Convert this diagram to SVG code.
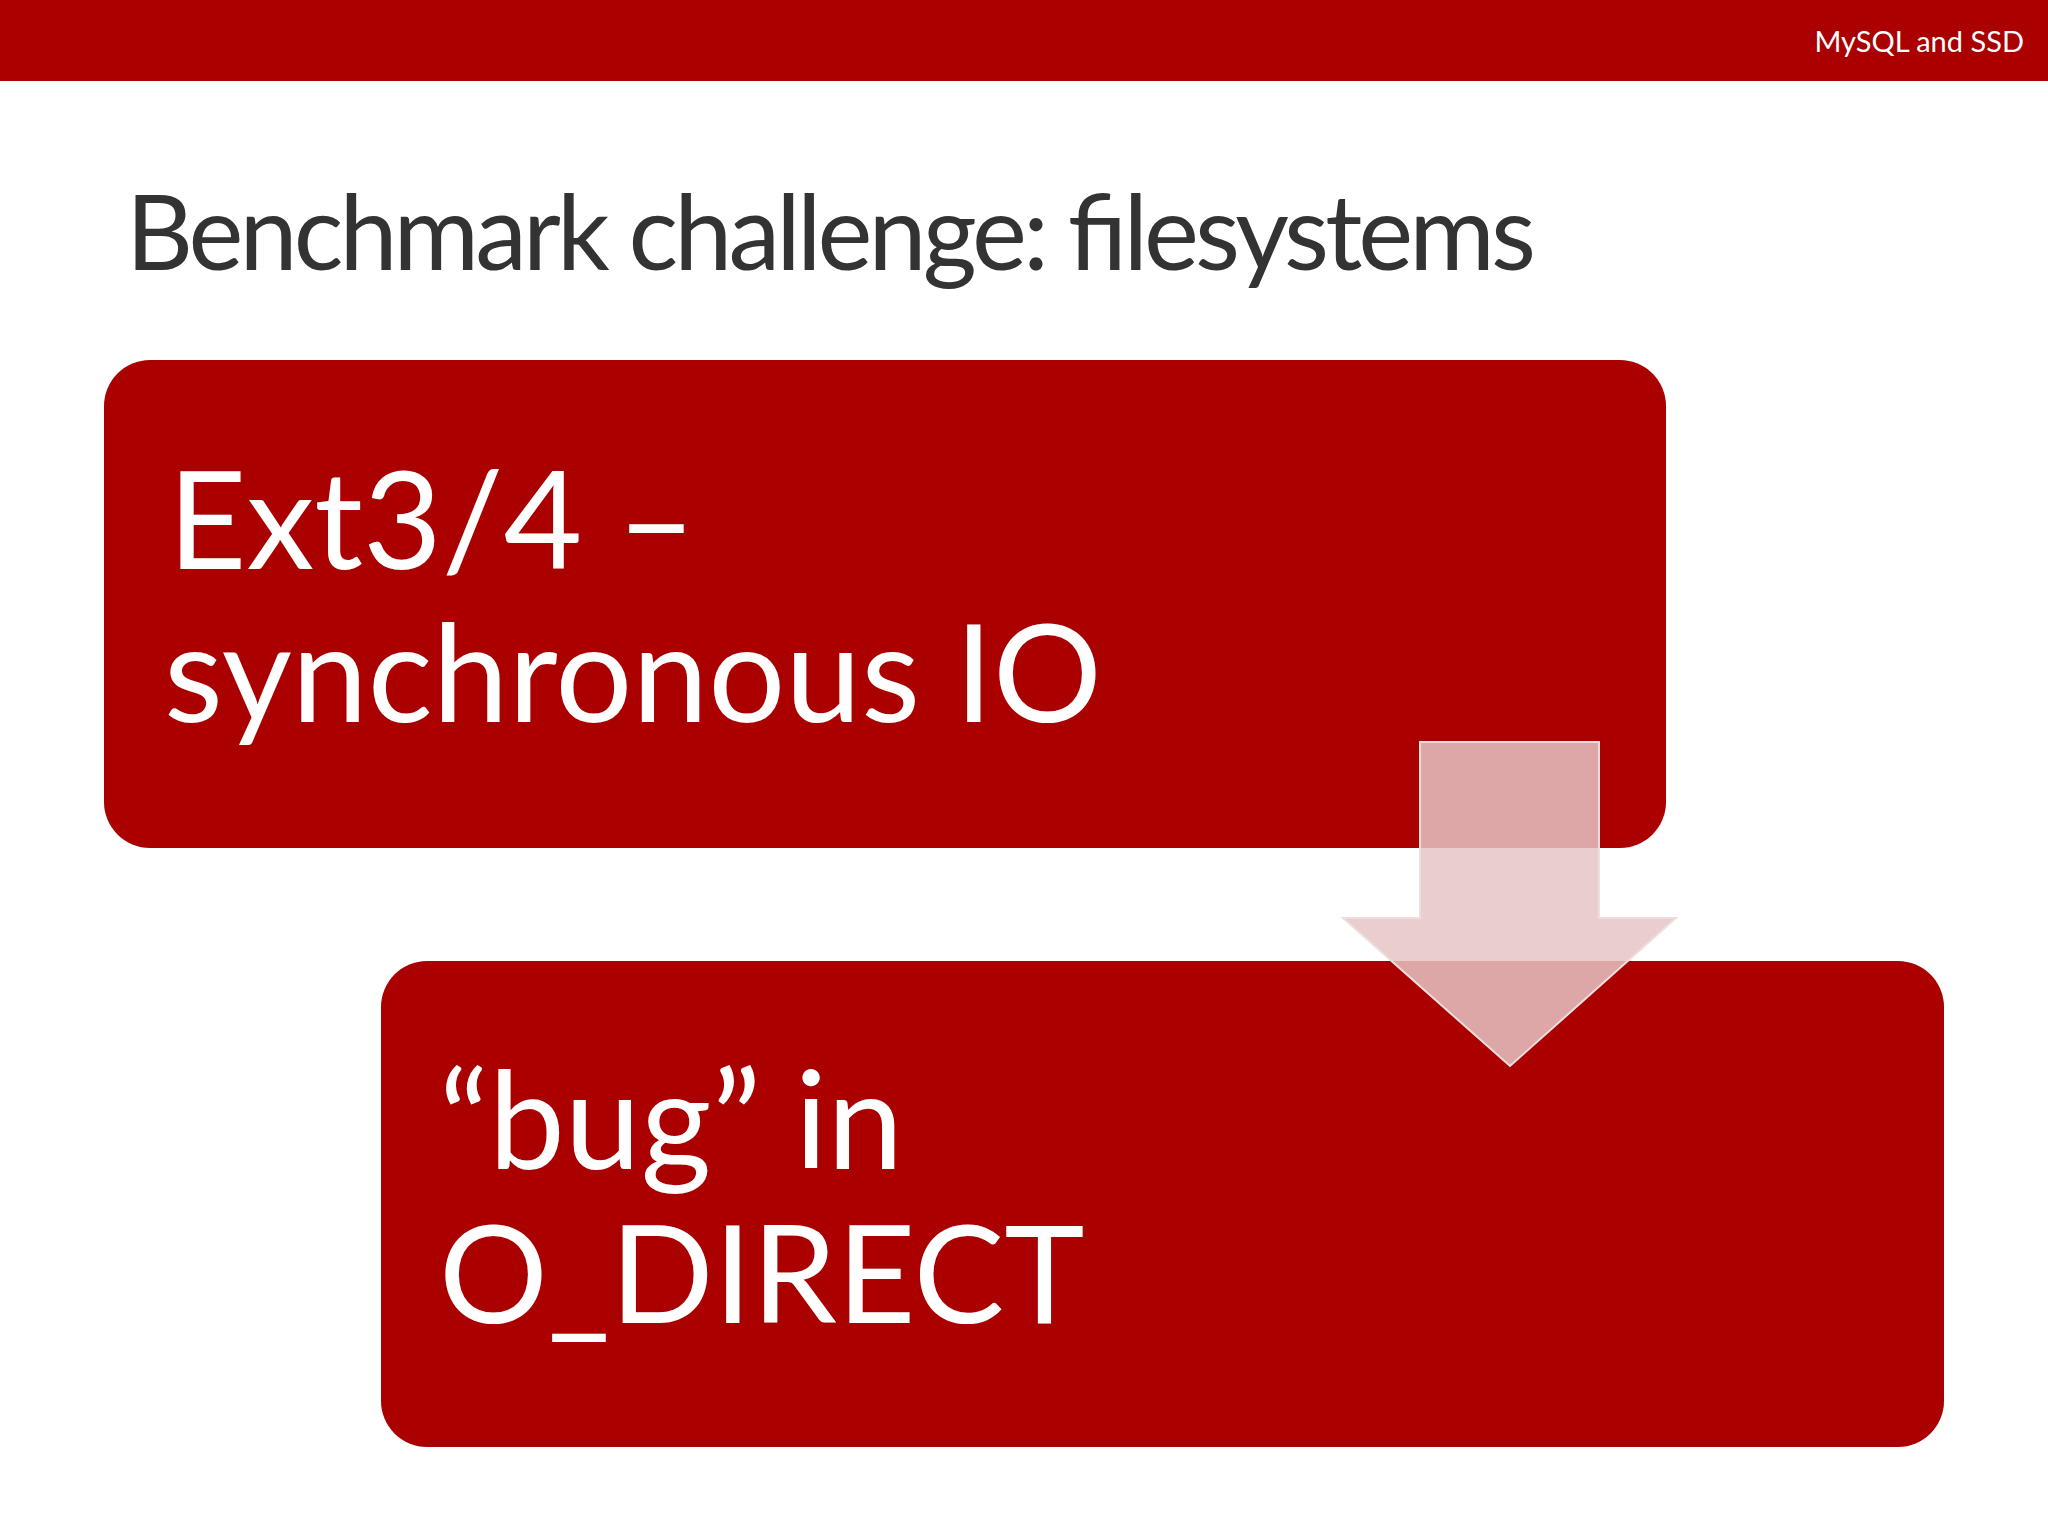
<svg xmlns="http://www.w3.org/2000/svg" width="2048" height="1536" viewBox="0 0 2048 1536">
<style>
.t{font-family:Lato,"Open Sans","Liberation Sans",sans-serif;}
.box{fill:#aa0000;}
.bt{fill:#ffffff;font-size:136px;}
</style>
<rect width="2048" height="1536" fill="#ffffff"/>
<rect x="0" y="0" width="2048" height="81" fill="#aa0000"/>
<text class="t" x="2024" y="52" font-size="29" fill="#ffffff" text-anchor="end">MySQL and SSD</text>
<text class="t" x="126" y="270" font-size="104" fill="#333333" textLength="1410">Benchmark challenge: filesystems</text>
<g id="node1">
<rect class="box" x="104" y="360" width="1562" height="488" rx="46"/>
<text class="t bt" x="168" y="569">Ext3/4 –</text>
<text class="t bt" x="164" y="722">synchronous IO</text>
</g>
<g id="node2">
<rect class="box" x="381" y="961" width="1563" height="486" rx="46"/>
<text class="t bt" x="439" y="1169">“bug” in</text>
<text class="t bt" x="439" y="1323">O_DIRECT</text>
</g>
<g id="connectors">
<path d="M1420 742 H1599 V918 H1676 L1510 1066 L1343 918 H1420 Z" fill="#e6c4c4" fill-opacity="0.85" stroke="#f0dede" stroke-width="2"/>
</g>
</svg>
